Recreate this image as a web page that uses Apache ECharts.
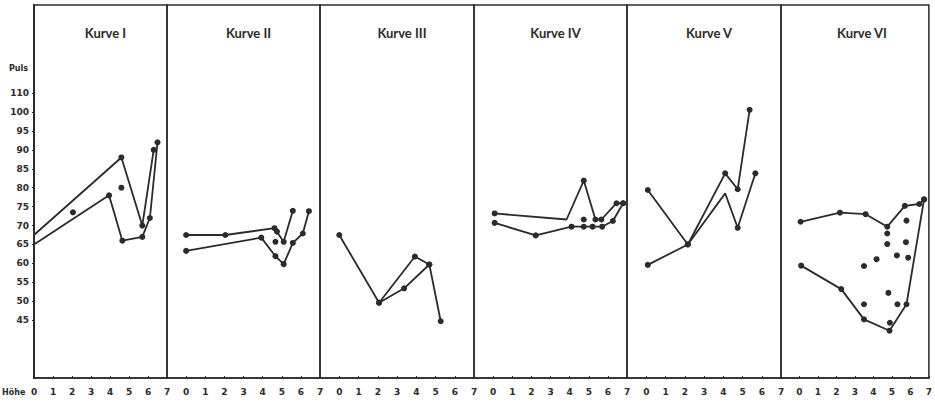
<!DOCTYPE html>
<html>
<head>
<meta charset="utf-8">
<script src="https://cdn.jsdelivr.net/npm/echarts@6/dist/echarts.min.js"></script>
<style>
html,body{margin:0;padding:0;background:#fff;}
#c{width:935px;height:403px;}
</style>
</head>
<body>
<div id="c"></div>
<script>
// ---- data (Höhe, Puls) ----
const panelTitles = ['Kurve I', 'Kurve II', 'Kurve III', 'Kurve IV', 'Kurve V', 'Kurve VI'];
const xTickValues = [0, 1, 2, 3, 4, 5, 6, 7];
const xTickLabels = ['0', '1', '2', '3', '4', '5', '6', '7'];
const yTickValues = [45, 50, 55, 60, 65, 70, 75, 80, 85, 90, 95, 100, 105];
const yTickLabels = ['45', '50', '55', '60', '65', '70', '75', '80', '85', '90', '95', '100', '110'];

const kurve1A = [[0, 67.5], [4.6, 88], [5.7, 70], [6.3, 90]];
const kurve1B = [[0, 65], [3.95, 78], [4.65, 66], [5.7, 67], [6.1, 72], [6.5, 92]];
const kurve1Dots = [[2.05, 73.5], [4.6, 80]];

const kurve2A = [[0, 67.5], [2.05, 67.5], [4.62, 69.3], [5.1, 65.7], [5.58, 73.9]];
const kurve2B = [[0, 63.3], [3.93, 66.8], [4.67, 61.9], [5.1, 59.8], [5.58, 65.4], [6.1, 67.9], [6.42, 73.8]];
const kurve2Dots = [[4.67, 65.7], [4.75, 68.4]];

const kurve3A = [[0, 67.5], [2.07, 49.6], [3.93, 61.8], [4.68, 59.7], [5.27, 44.7]];
const kurve3B = [[2.07, 49.6], [3.37, 53.4], [4.68, 59.7]];
const kurve3Dots = [];

const kurve4A = [[0.08, 73.2], [3.84, 71.6], [4.74, 81.9], [5.35, 71.6], [5.66, 71.6], [6.45, 75.9], [6.8, 75.9]];
const kurve4B = [[0.08, 70.7], [2.23, 67.4], [4.1, 69.7], [4.74, 69.7], [5.2, 69.7], [5.7, 69.7], [6.26, 71.2], [6.8, 75.9]];
const kurve4Dots = [[4.74, 71.6]];

const kurve5A = [[0.08, 79.4], [2.16, 65], [4.1, 83.8], [4.75, 79.6], [5.37, 100.6]];
const kurve5B = [[0.08, 59.6], [2.16, 65], [4.1, 78.5], [4.75, 69.4], [5.67, 83.8]];
const kurve5Dots = [];

const kurve6A = [[0.06, 71], [2.19, 73.4], [3.58, 73], [4.75, 69.7], [5.7, 75.2], [6.48, 75.7], [6.74, 76.9]];
const kurve6B = [[0.09, 59.4], [2.26, 53.2], [3.49, 45.2], [4.87, 42.2], [5.79, 49.2], [6.74, 76.9]];
const kurve6Dots = [[5.79, 71.3], [4.75, 67.9], [4.75, 65.1], [5.76, 65.6], [5.27, 62.1], [5.88, 61.5],
  [4.17, 61.1], [3.49, 59.3], [4.81, 52.2], [3.49, 49.2], [5.3, 49.2], [4.89, 44.3]];

// vertices drawn without a dot (line bends only)
const kurve1ANoDot = [0];
const kurve1BNoDot = [0];
const kurve4ANoDot = [1];
const kurve5BNoDot = [2];

// ---- layout ----
const INK = '#2b2b2b';
const panelLefts = [34, 167, 320, 474, 627, 781];
const panelWidths = [133, 153, 154, 153, 154, 152];
const panelXMin = [0, -1, -1, -1, -1, -1];
const gridTop = 5, gridBottom = 25;
const yMin = 29.7, yMax = 128.3;

const lines = [
  [kurve1A, kurve1B], [kurve2A, kurve2B], [kurve3A, kurve3B],
  [kurve4A, kurve4B], [kurve5A, kurve5B], [kurve6A, kurve6B]
];
const dots = [kurve1Dots, kurve2Dots, kurve3Dots, kurve4Dots, kurve5Dots, kurve6Dots];
const noDots = { '0-0': kurve1ANoDot, '0-1': kurve1BNoDot, '3-0': kurve4ANoDot, '4-1': kurve5BNoDot };

const grids = [], xAxes = [], yAxes = [], series = [], titles = [];
for (let i = 0; i < 6; i++) {
  grids.push({
    left: panelLefts[i], width: panelWidths[i], top: gridTop, bottom: gridBottom,
    show: true, borderColor: INK, borderWidth: 1.5, backgroundColor: 'transparent'
  });
  xAxes.push({
    gridIndex: i, type: 'value', min: panelXMin[i], max: 7,
    axisLine: { show: true, onZero: false, lineStyle: { color: INK, width: 1.5 } },
    axisTick: { show: true, inside: true, length: 2, customValues: xTickValues, lineStyle: { color: INK } },
    axisLabel: {
      show: true, customValues: xTickValues, margin: 9,
      color: INK, fontFamily: 'DejaVu Sans', fontWeight: 'bold', fontSize: 9,
      formatter: v => xTickLabels[xTickValues.indexOf(v)] || ''
    },
    splitLine: { show: false }
  });
  yAxes.push({
    gridIndex: i, type: 'value', min: yMin, max: yMax,
    axisLine: { show: i === 0, onZero: false, lineStyle: { color: INK, width: 2 } },
    axisTick: { show: i === 0, length: 2, customValues: yTickValues, lineStyle: { color: INK } },
    axisLabel: {
      show: i === 0, customValues: yTickValues, margin: 5,
      color: INK, fontFamily: 'DejaVu Sans', fontWeight: 'bold', fontSize: 9,
      formatter: v => yTickLabels[yTickValues.indexOf(v)] || ''
    },
    splitLine: { show: false }
  });
  titles.push({
    text: panelTitles[i], left: panelLefts[i] + panelWidths[i] / 2, top: 21, textAlign: 'center',
    textStyle: { fontFamily: 'Lato', fontWeight: 'bold', fontSize: 13, color: INK }
  });
  lines[i].forEach((arr, k) => {
    const hidden = noDots[i + '-' + k] || [];
    series.push({
      type: 'line', xAxisIndex: i, yAxisIndex: i,
      data: arr.map((p, j) => hidden.indexOf(j) >= 0 ? { value: p, symbolSize: 0 } : p),
      symbol: 'circle', symbolSize: 6, showSymbol: true,
      lineStyle: { color: INK, width: 1.8 }, itemStyle: { color: INK, opacity: 1 },
      animation: false, silent: true, clip: false
    });
  });
  if (dots[i].length) {
    series.push({
      type: 'scatter', xAxisIndex: i, yAxisIndex: i, data: dots[i],
      symbol: 'circle', symbolSize: 6, itemStyle: { color: INK, opacity: 1 },
      animation: false, silent: true
    });
  }
}

const chart = echarts.init(document.getElementById('c'), null, { renderer: 'svg' });
chart.setOption({
  backgroundColor: '#ffffff',
  animation: false,
  title: titles,
  grid: grids, xAxis: xAxes, yAxis: yAxes, series: series,
  graphic: [
    { type: 'text', left: 9, top: 64, style: { text: 'Puls', fill: INK, font: 'bold 8px "DejaVu Sans"' } },
    { type: 'text', left: 2, top: 388, style: { text: 'Höhe', fill: INK, font: 'bold 8px "DejaVu Sans"' } }
  ]
});
</script>
</body>
</html>
